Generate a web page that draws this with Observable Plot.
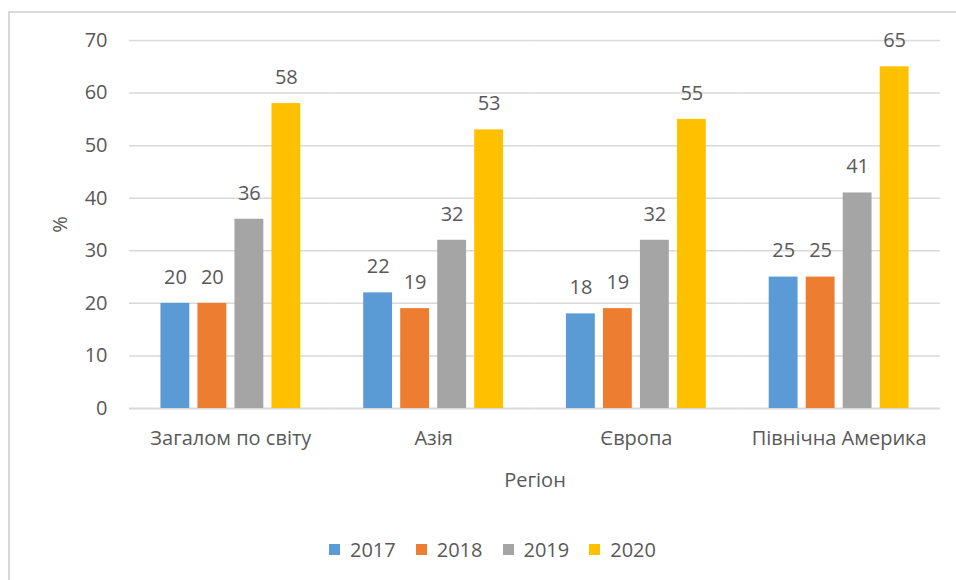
<!DOCTYPE html>
<html>
<head>
<meta charset="utf-8">
<script src="https://cdn.jsdelivr.net/npm/d3@7"></script>
<script src="https://cdn.jsdelivr.net/npm/@observablehq/plot@0.6"></script>
<style>
  html, body { margin: 0; padding: 0; background: #fff; }
  #wrap { position: relative; width: 956px; height: 580px; overflow: hidden; background: #fff; }
  #frame { position: absolute; left: 8px; top: 11px; width: 1000px; height: 700px;
           border-left: 2px solid #d9d9d9; border-top: 2px solid #d9d9d9; box-sizing: border-box; }
  #chart { position: absolute; left: 0; top: 0; }
  #legend { position: absolute; left: 329px; top: 533px; }
</style>
</head>
<body>
<div id="wrap">
  <div id="frame"></div>
  <div id="chart"></div>
  <div id="legend"></div>
</div>
<script>
const regions = ["Загалом по світу", "Азія", "Європа", "Північна Америка"];
const years = ["2017", "2018", "2019", "2020"];
const v2017 = [20, 22, 18, 25];
const v2018 = [20, 19, 19, 25];
const v2019 = [36, 32, 32, 41];
const v2020 = [58, 53, 55, 65];
const colors = ["#5B9BD5", "#ED7D31", "#A5A5A5", "#FFC000"];
const yTicks = [0, 10, 20, 30, 40, 50, 60, 70];
const yLabel = "%";
const xLabel = "Регіон";

const series = [v2017, v2018, v2019, v2020];
const data = regions.flatMap((r, i) => series.map((s, j) => ({region: r, year: years[j], value: s[i]})));

const textColor = "#595959";
const font = "'Open Sans', sans-serif";

const chart = Plot.plot({
  width: 956,
  height: 510,
  marginLeft: 129,
  marginRight: 16,
  marginTop: 40,
  marginBottom: 102,
  style: {fontFamily: font, fontSize: "20px", color: textColor, background: "transparent", overflow: "visible"},
  fx: {domain: regions, padding: 0, round: false},
  x: {domain: years, paddingInner: 0.22, paddingOuter: 0.85, round: false, axis: null},
  y: {domain: [0, 70]},
  color: {domain: years, range: colors},
  marks: [
    Plot.gridY(yTicks.filter(t => t > 0), {stroke: "#d9d9d9", strokeOpacity: 1, strokeWidth: 1.5}),
    Plot.ruleY([0], {stroke: "#d9d9d9", strokeWidth: 2}),
    Plot.axisY(yTicks, {tickSize: 0, tickPadding: 22, fill: textColor, fontSize: 20,
      label: yLabel, labelAnchor: "center", labelArrow: "none", labelOffset: 77}),
    Plot.axisFx({anchor: "bottom", tickSize: 0, tickPadding: 22, fill: textColor, fontSize: 20,
      label: xLabel, labelAnchor: "center", labelArrow: "none", labelOffset: 78}),
    Plot.barY(data, {fx: "region", x: "year", y: "value", fill: "year"}),
    Plot.text(data, {fx: "region", x: "year", y: "value", text: d => String(d.value),
      dy: -26, lineAnchor: "middle", fill: textColor, fontSize: 20})
  ]
});
document.getElementById("chart").append(chart);

const legend = Plot.legend({
  color: {domain: years, range: colors},
  legend: "swatches",
  swatchSize: 11,
  style: {fontFamily: font, fontSize: "20px", color: textColor, background: "transparent"}
});
document.getElementById("legend").append(legend);
</script>
</body>
</html>
